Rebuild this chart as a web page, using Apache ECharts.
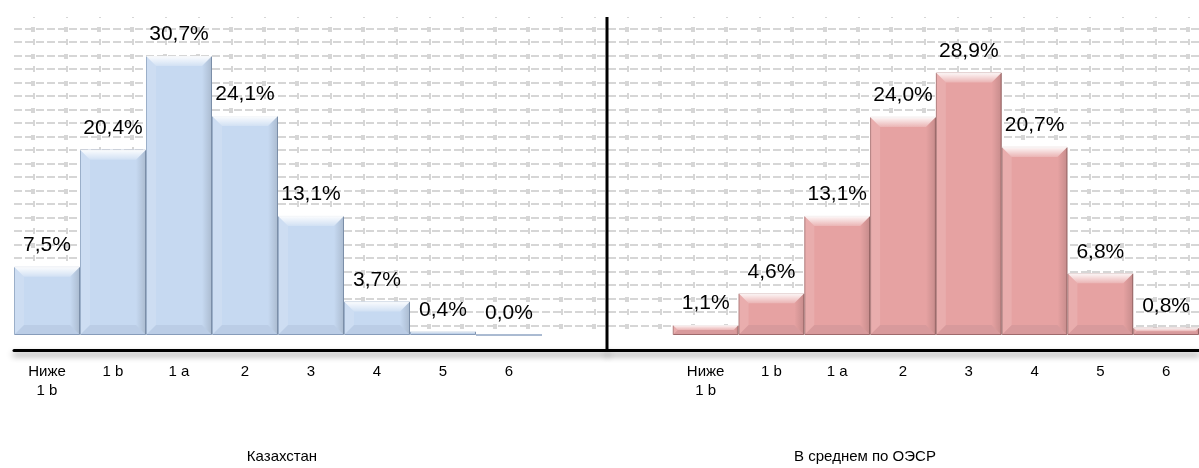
<!DOCTYPE html>
<html>
<head>
<meta charset="utf-8">
<title>PISA: распределение по уровням</title>
<script src="https://cdn.jsdelivr.net/npm/echarts@6/dist/echarts.min.js"></script>
<style>
  html, body { margin: 0; padding: 0; background: #fff; }
  #chart { width: 1199px; height: 468px; }
</style>
</head>
<body>
<div id="chart"></div>
<script>
// Proficiency levels; each panel has one empty slot next to the divider
const levelsKz = ['Ниже\n1 b', '1 b', '1 a', '2', '3', '4', '5', '6', ''];
const levelsOecd = ['', 'Ниже\n1 b', '1 b', '1 a', '2', '3', '4', '5', '6'];

// Share of students at each level, %
const kazakhstan = [7.5, 20.4, 30.7, 24.1, 13.1, 3.7, 0.4, 0.0, null];
const oecdAverage = [null, 1.1, 4.6, 13.1, 24.0, 28.9, 20.7, 6.8, 0.8];

const panelTitles = ['Казахстан', 'В среднем по ОЭСР'];

const FONT = 'Liberation Sans, Arial, sans-serif';

// Dashed textured fill for the plot areas
function makeTile() {
  const c = document.createElement('canvas');
  c.width = 33; c.height = 27;
  const g = c.getContext('2d');
  g.fillStyle = '#fff';
  g.fillRect(0, 0, 33, 27);
  g.fillStyle = '#d6d6d6';
  [1, 14].forEach(function (y, row) {
    for (let x = 3; x < 33; x += 11) g.fillRect(x, y, 8, 2);
    g.fillRect(0, y - 2, 2, 6);
    if (row === 0) g.fillRect(31, y - 2, 2, 6);
  });
  return c;
}
const tile = makeTile();

function pct(p) {
  return p.value == null ? '' : p.value.toFixed(1).replace('.', ',') + '%';
}

// Bevel overlay drawn on top of each bar
function bevel(params, api) {
  const v = api.value(1);
  if (v == null || isNaN(v)) return;
  const top = api.coord([api.value(0), v]);
  const base = api.coord([api.value(0), 0]);
  const w = api.size([1, 0])[0];
  const x0 = top[0] - w / 2, x1 = top[0] + w / 2;
  const y0 = top[1], yb = base[1];
  const h = yb - y0;
  if (h < 1) return;
  const b = Math.min(10, h / 2, w / 2);
  return {
    type: 'group',
    children: [
      { type: 'polygon', shape: { points: [[x0, y0], [x1, y0], [x1 - b, y0 + b], [x0 + b, y0 + b]] },
        style: { fill: new echarts.graphic.LinearGradient(0, 0, 0, 1, [
          { offset: 0, color: 'rgba(255,255,255,0.95)' },
          { offset: 1, color: 'rgba(255,255,255,0.2)' }]) } },
      { type: 'polygon', shape: { points: [[x0, yb], [x1, yb], [x1 - b, yb - b], [x0 + b, yb - b]] },
        style: { fill: 'rgba(40,50,80,0.07)' } },
      { type: 'polygon', shape: { points: [[x1, y0], [x1, yb], [x1 - b, yb - b], [x1 - b, y0 + b]] },
        style: { fill: new echarts.graphic.LinearGradient(0, 0, 1, 0, [
          { offset: 0, color: 'rgba(0,0,0,0)' },
          { offset: 1, color: 'rgba(0,0,0,0.14)' }]) } },
      { type: 'polygon', shape: { points: [[x0, y0], [x0, yb], [x0 + b, yb - b], [x0 + b, y0 + b]] },
        style: { fill: 'rgba(255,255,255,0.12)' } }
    ]
  };
}

function xAxisFor(idx, cats) {
  return {
    type: 'category', gridIndex: idx, data: cats, offset: 15,
    axisLine: { onZero: false, lineStyle: { color: '#000', width: 3, shadowBlur: 6, shadowColor: 'rgba(0,0,0,0.45)', shadowOffsetY: 4 } },
    axisTick: { show: false },
    axisLabel: { color: '#000', fontFamily: FONT, fontSize: 15, lineHeight: 19, margin: 12, interval: 0 },
    splitLine: { show: false }
  };
}

function yAxisFor(idx) {
  return { type: 'value', gridIndex: idx, min: 0, max: 35, show: false };
}

function barFor(idx, data, color, border) {
  return {
    type: 'bar', xAxisIndex: idx, yAxisIndex: idx, data: data,
    barCategoryGap: '0%',
    itemStyle: { color: color, borderColor: border, borderWidth: 1 },
    label: { show: true, position: 'top', distance: 11, color: '#000', fontFamily: FONT, fontSize: 21, formatter: pct },
    animation: false, z: 2
  };
}

function bevelFor(idx, data) {
  return {
    type: 'custom', xAxisIndex: idx, yAxisIndex: idx,
    data: data.map(function (v, i) { return [i, v]; }),
    renderItem: bevel, silent: true, animation: false, z: 3
  };
}

const chart = echarts.init(document.getElementById('chart'), null, { renderer: 'canvas' });
chart.setOption({
  backgroundColor: '#fff',
  animation: false,
  title: [
    { text: panelTitles[0], left: 277, top: 444, textAlign: 'center',
      textStyle: { fontFamily: FONT, fontSize: 15, fontWeight: 'normal', color: '#000' } },
    { text: panelTitles[1], left: 860, top: 444, textAlign: 'center',
      textStyle: { fontFamily: FONT, fontSize: 15, fontWeight: 'normal', color: '#000' } }
  ],
  grid: [
    { left: 14, top: 17, width: 594, height: 318, show: true, borderWidth: 0,
      backgroundColor: { image: tile, repeat: 'repeat' } },
    { left: 607, top: 17, width: 594, height: 318, show: true, borderWidth: 0,
      backgroundColor: { image: tile, repeat: 'repeat' } }
  ],
  xAxis: [xAxisFor(0, levelsKz), xAxisFor(1, levelsOecd)],
  yAxis: [yAxisFor(0), yAxisFor(1)],
  series: [
    barFor(0, kazakhstan, '#C6D9F1', '#8EA4C2'),
    bevelFor(0, kazakhstan),
    barFor(1, oecdAverage, '#E6A2A2', '#A86E6E'),
    bevelFor(1, oecdAverage)
  ],
  graphic: [
    // vertical divider between the two panels
    { type: 'line', shape: { x1: 607, y1: 17, x2: 607, y2: 351 },
      style: { stroke: '#000', lineWidth: 3 }, z: 10 }
  ]
});
</script>
</body>
</html>
